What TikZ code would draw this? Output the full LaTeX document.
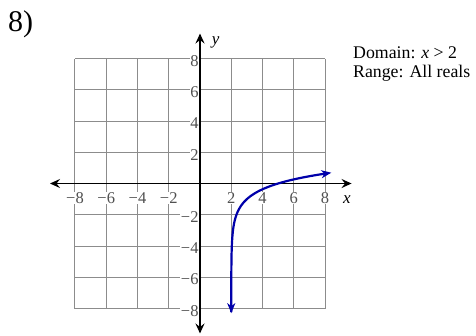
\documentclass[tikz,border=0pt]{standalone}
\usepackage{fontspec}
\setmainfont{Liberation Serif}
\usetikzlibrary{arrows.meta}
\definecolor{gridgray}{RGB}{140,140,140}
\definecolor{ticktext}{RGB}{80,80,80}
\definecolor{curveblue}{RGB}{0,0,170}
\begin{document}
\begin{tikzpicture}[x=15.625pt,y=15.625pt,
  gridline/.style={draw=gridgray, line width=1pt},
  axisline/.style={draw=black, line width=1.6pt,
    {Stealth[length=10pt,width=9pt,inset=3.5pt]}-{Stealth[length=10pt,width=9pt,inset=3.5pt]}},
  curveline/.style={draw=curveblue, line width=2.2pt,
    {Stealth[length=10pt,width=8pt,inset=3pt]}-{Stealth[length=10pt,width=8pt,inset=3pt]}},
  ticklabel/.style={font=\fontsize{16.5}{16.5}\selectfont, text=ticktext, fill=white, inner sep=0.5pt},
  ylabel/.style={ticklabel, anchor=east},
  axislabel/.style={font=\fontsize{17}{17}\selectfont\itshape, inner sep=0pt},
  infotext/.style={font=\fontsize{17.8}{17.8}\selectfont, anchor=base west, inner sep=0pt}]
\useasboundingbox (-12.8,-9.696) rectangle (17.664,11.744);
% grid
\foreach \g in {-8,-6,...,8} {
  \draw[gridline] (\g,-8) -- (\g,8);
  \draw[gridline] (-8,\g) -- (8,\g);
}
% tick labels
\foreach \v/\t in {-8/−8,-6/−6,-4/−4,-2/−2,2/2,4/4,6/6,8/8} {
  \node[ticklabel] (xt\v) at (\v,-0.93) {\t};
  \node[ylabel] (yt\v) at (-0.05,\v-0.15) {\t};
}
% axes
\coordinate (xl) at (-9.6,0);
\coordinate (xr) at (9.7,0);
\coordinate (yb) at (0,-9.6);
\coordinate (yt) at (0,9.6);
\draw[axisline] (xl) -- (xr);
\draw[axisline] (yb) -- (yt);
\node[axislabel] (xname) at (9.4,-1.05) {x};
\node[axislabel] (yname) at (1.0,9.0) {y};
% curve: y = log_3(x-2) - 1
\draw[curveline] plot[domain=-8.3:0.69, samples=120, smooth, variable=\t]
  ({2+exp((\t+1)*1.098612)}, {\t});
% texts
\node[font=\fontsize{30}{30}\selectfont, anchor=base west, inner sep=0pt] (num) at (-12.29,9.73) {8)};
\node[infotext] (dom) at (9.79,7.99) {Domain: \textit{x} > 2};
\node[infotext] (ran) at (9.79,6.8) {Range: All reals};
\end{tikzpicture}
\end{document}
